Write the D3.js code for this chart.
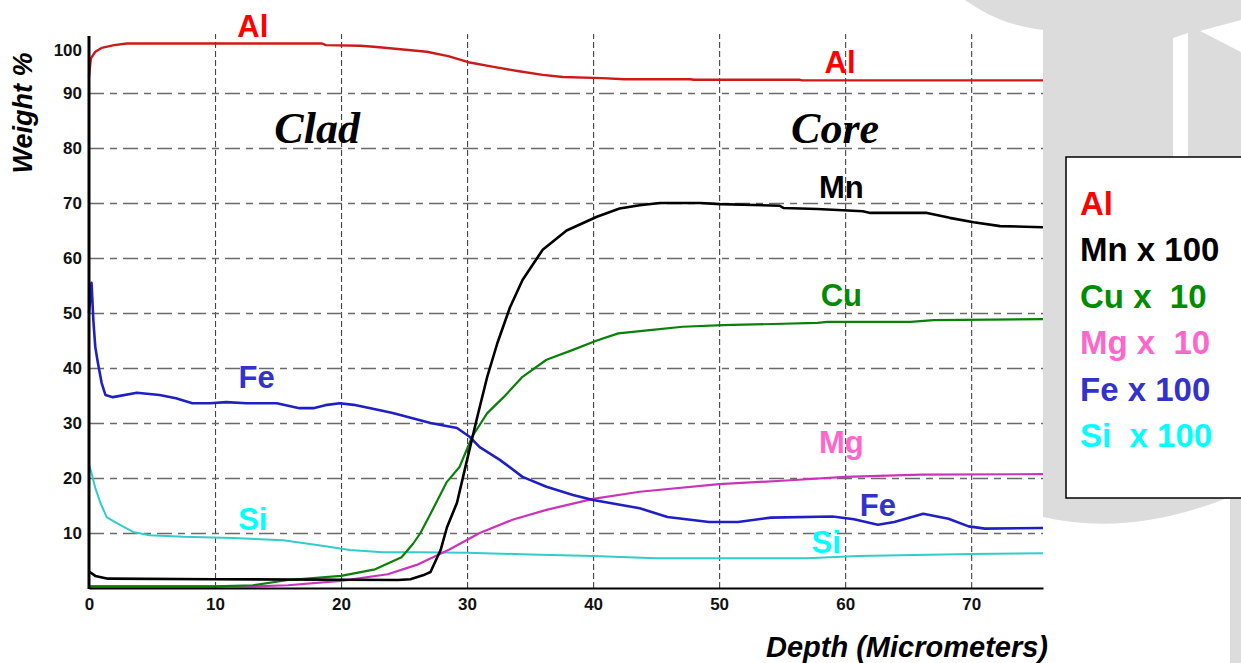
<!DOCTYPE html>
<html>
<head>
<meta charset="utf-8">
<script src="https://cdn.jsdelivr.net/npm/d3@7"></script>
<style>
  html, body { margin: 0; padding: 0; background: #fff; }
  svg { display: block; }
</style>
</head>
<body>
<svg id="chart" width="1241" height="663"></svg>
<script>
// depth in micrometers, weight % (scaled as in the legend)
var alDepth = [0, 0.15, 0.5, 1, 2, 3, 18.5, 18.8, 21.5, 22.6, 24.5, 26.8, 28.5, 30.1, 32, 34, 36, 37.6, 40.7, 42.5, 47.7, 48, 56.4, 56.6, 75.7];
var al      = [93, 96.3, 97.5, 98.2, 98.7, 99, 99, 98.7, 98.6, 98.4, 98, 97.5, 96.7, 95.6, 94.8, 94, 93.3, 92.9, 92.7, 92.5, 92.5, 92.4, 92.4, 92.3, 92.3];

var mnDepth = [0, 0.5, 1.5, 10, 20, 24.5, 25.5, 26.5, 27.1, 27.9, 28.4, 29.2, 30, 30.8, 31.6, 32.4, 33.4, 34.4, 36, 37.9, 40.3, 42.1, 43.7, 45.3, 48.5, 50.1, 54.8, 55.1, 57.8, 61.4, 62, 66.5, 68.3, 70.2, 72.3, 75.7];
var mn      = [3, 2.2, 1.7, 1.6, 1.5, 1.45, 1.6, 2.3, 2.9, 6.9, 11, 15.5, 23.3, 31, 38.4, 44.5, 51, 56, 61.5, 65, 67.5, 69, 69.6, 70, 70, 69.8, 69.5, 69.1, 68.9, 68.5, 68.2, 68.2, 67.3, 66.5, 65.8, 65.6];

var cuDepth = [0, 10, 13, 15.8, 20, 22.7, 24.8, 25.7, 26.3, 27.1, 28.4, 29.4, 30.4, 31.6, 32.9, 34.4, 36.3, 38.4, 40.3, 42, 44.5, 47.1, 50.3, 54.3, 57.8, 58.6, 65.2, 67, 75.7];
var cu      = [0.3, 0.3, 0.5, 1.45, 2.2, 3.4, 5.6, 8, 10, 13.5, 19.3, 22, 27.5, 31.8, 34.7, 38.4, 41.5, 43.3, 45, 46.3, 46.9, 47.5, 47.8, 48, 48.2, 48.4, 48.4, 48.7, 48.9];

var mgDepth = [0, 13, 15.8, 20, 23.7, 26, 28.6, 31, 33.6, 36.3, 40, 43.7, 50, 55, 60, 66, 75.7];
var mg      = [0.3, 0.3, 0.5, 1.3, 2.5, 4.2, 7, 10, 12.4, 14.2, 16.2, 17.5, 18.9, 19.5, 20.2, 20.6, 20.7];

var feDepth = [0, 0.2, 0.35, 0.5, 0.7, 1.0, 1.3, 1.9, 3.8, 5.6, 6.9, 8.2, 9.6, 10.9, 12.5, 14.9, 16.7, 17.8, 18.9, 19.9, 21, 22.9, 24.1, 27.1, 29.2, 30.2, 31, 32.6, 34.4, 36.3, 38.4, 40, 43.7, 45.9, 49.2, 51.5, 54.1, 59, 60.7, 62.6, 63.9, 66.2, 68.2, 69.8, 71.1, 75.7];
var fe      = [50, 55.5, 48.5, 43.8, 41, 37.3, 35.1, 34.7, 35.5, 35.1, 34.5, 33.6, 33.6, 33.8, 33.6, 33.6, 32.7, 32.7, 33.3, 33.6, 33.3, 32.4, 31.8, 30, 29.1, 27.5, 25.6, 23.3, 20.2, 18.4, 16.9, 16, 14.5, 12.9, 12, 12, 12.8, 13, 12.5, 11.5, 12, 13.5, 12.6, 11.2, 10.8, 10.9];

var siDepth = [0, 0.2, 0.5, 0.9, 1.4, 2.2, 3.5, 4.8, 7.5, 11.4, 15.4, 18.1, 20.7, 23.3, 26.3, 30, 35, 40, 45, 50, 57, 61, 70, 75.7];
var si      = [22.5, 20.9, 18.2, 15.5, 12.9, 11.8, 10.2, 9.6, 9.3, 9.1, 8.7, 7.8, 6.9, 6.5, 6.5, 6.4, 6.1, 5.8, 5.4, 5.4, 5.4, 5.8, 6.2, 6.3];

var xTicks = [0, 10, 20, 30, 40, 50, 60, 70];
var yTicks = [10, 20, 30, 40, 50, 60, 70, 80, 90, 100];

var legendItems = ['Al', 'Mn x 100', 'Cu x  10', 'Mg x  10', 'Fe x 100', 'Si  x 100'];
var legendColors = ['#ff0000', '#000000', '#008c00', '#ff66cc', '#3333cc', '#00ffff'];

var svg = d3.select('#chart');

// slide background decoration on the right
var bg = svg.append('g');
bg.append('path')
  .attr('d', 'M965,0 C985,14 1008,26 1043,30 L1043,517 Q1130,537 1230,497 L1230,663 L1241,663 L1241,0 Z')
  .attr('fill', '#dcdcdc');
bg.append('path')
  .attr('d', 'M1173,38 L1188,33 L1188,300 L1173,300 Z')
  .attr('fill', '#fff');
bg.append('path')
  .attr('d', 'M1200,31 L1241,20 L1241,52 Z')
  .attr('fill', '#fff');

var x = d3.scaleLinear().domain([0, 75.7]).range([89, 1043]);
var y = d3.scaleLinear().domain([0, 100]).range([588, 38]);

var plot = svg.append('g');

// grid
plot.append('g')
  .attr('transform', 'translate(0,' + y(0) + ')')
  .call(d3.axisBottom(x).tickValues(xTicks.slice(1)).tickSize(-(y(0) - 34)).tickFormat(''))
  .call(function(g) {
    g.select('.domain').remove();
    g.selectAll('line').attr('stroke', '#444').attr('stroke-width', 1.1).attr('stroke-dasharray', '6,3');
  });

plot.append('g')
  .attr('transform', 'translate(' + x(0) + ',0)')
  .call(d3.axisLeft(y).tickValues(yTicks.slice(0, -1)).tickSize(-(x(75.7) - x(0))).tickFormat(''))
  .call(function(g) {
    g.select('.domain').remove();
    g.selectAll('line').attr('stroke', '#6a6a6a').attr('stroke-width', 1.4).attr('stroke-dasharray', '15,6,7,6');
  });

// series
var line = d3.line()
  .x(function(d) { return x(d[0]); })
  .y(function(d) { return y(d[1]); });

var series = [
  { depth: siDepth, values: si, color: '#33cccc', width: 2 },
  { depth: mgDepth, values: mg, color: '#cc33bb', width: 2.2 },
  { depth: cuDepth, values: cu, color: '#0a800a', width: 2.2 },
  { depth: feDepth, values: fe, color: '#1f1fc4', width: 2.6 },
  { depth: mnDepth, values: mn, color: '#000000', width: 2.6 },
  { depth: alDepth, values: al, color: '#cc1a1a', width: 2.4 }
];

series.forEach(function(s) {
  plot.append('path')
    .datum(d3.zip(s.depth, s.values))
    .attr('fill', 'none')
    .attr('stroke', s.color)
    .attr('stroke-width', s.width)
    .attr('stroke-linejoin', 'round')
    .attr('d', line);
});

// axes
var tickFont = 'bold 17px "Liberation Sans", Arial, sans-serif';

plot.append('g')
  .attr('transform', 'translate(0,' + y(0) + ')')
  .call(d3.axisBottom(x).tickValues(xTicks).tickSize(0).tickPadding(10))
  .call(function(g) {
    g.select('.domain').attr('stroke', '#000').attr('stroke-width', 2);
    g.selectAll('text').style('font', tickFont).attr('fill', '#111');
  });

plot.append('g')
  .attr('transform', 'translate(' + x(0) + ',0)')
  .call(d3.axisLeft(y).tickValues(yTicks).tickSize(0).tickPadding(7))
  .call(function(g) {
    g.select('.domain').attr('stroke', '#000').attr('stroke-width', 3).attr('d', 'M0,' + (y(0) + 1) + 'V36');
    g.selectAll('text').style('font', tickFont).attr('fill', '#111');
    g.selectAll('.tick').filter(function(d) { return d === 100; }).select('text').attr('dy', '1.05em');
  });

svg.append('text')
  .attr('transform', 'translate(32,113) rotate(-90)')
  .attr('text-anchor', 'middle')
  .style('font', 'italic bold 27px "Liberation Sans", Arial, sans-serif')
  .text('Weight %');

svg.append('text')
  .attr('x', 1048)
  .attr('y', 657)
  .attr('text-anchor', 'end')
  .style('font', 'italic bold 29px "Liberation Sans", Arial, sans-serif')
  .text('Depth (Micrometers)');

// in-plot labels (depth, weight)
var labels = [
  { t: 'Al', d: 13.0, v: 100.2, c: '#ff0000' },
  { t: 'Al', d: 59.6, v: 93.6, c: '#ff0000' },
  { t: 'Mn', d: 59.7, v: 70.9, c: '#000000' },
  { t: 'Cu', d: 59.7, v: 51.3, c: '#008c00' },
  { t: 'Mg', d: 59.7, v: 24.5, c: '#ff66cc' },
  { t: 'Fe', d: 13.3, v: 36.4, c: '#3333cc' },
  { t: 'Fe', d: 62.6, v: 13.1, c: '#3333cc' },
  { t: 'Si', d: 13.0, v: 10.5, c: '#00ffff' },
  { t: 'Si', d: 58.5, v: 6.4, c: '#00ffff' }
];

plot.selectAll('text.el')
  .data(labels)
  .enter().append('text')
  .attr('class', 'el')
  .attr('x', function(d) { return x(d.d); })
  .attr('y', function(d) { return y(d.v); })
  .attr('text-anchor', 'middle')
  .attr('fill', function(d) { return d.c; })
  .style('font', 'bold 31px "Liberation Sans", Arial, sans-serif')
  .text(function(d) { return d.t; });

plot.selectAll('text.zone')
  .data([{ t: 'Clad', d: 18.1 }, { t: 'Core', d: 59.2 }])
  .enter().append('text')
  .attr('class', 'zone')
  .attr('x', function(d) { return x(d.d); })
  .attr('y', y(80.9))
  .attr('text-anchor', 'middle')
  .style('font', 'italic bold 44px "Liberation Serif", "Times New Roman", serif')
  .text(function(d) { return d.t; });

// legend
var legend = svg.append('g');
legend.append('rect')
  .attr('x', 1066).attr('y', 157)
  .attr('width', 190).attr('height', 341)
  .attr('fill', '#fff')
  .attr('stroke', '#000')
  .attr('stroke-width', 1.5);

legend.selectAll('text')
  .data(legendItems)
  .enter().append('text')
  .attr('x', 1080)
  .attr('y', function(d, i) { return 215 + i * 46.4; })
  .attr('fill', function(d, i) { return legendColors[i]; })
  .attr('xml:space', 'preserve')
  .style('white-space', 'pre')
  .style('font', 'bold 33px "Liberation Sans", Arial, sans-serif')
  .text(function(d) { return d; });
</script>
</body>
</html>
